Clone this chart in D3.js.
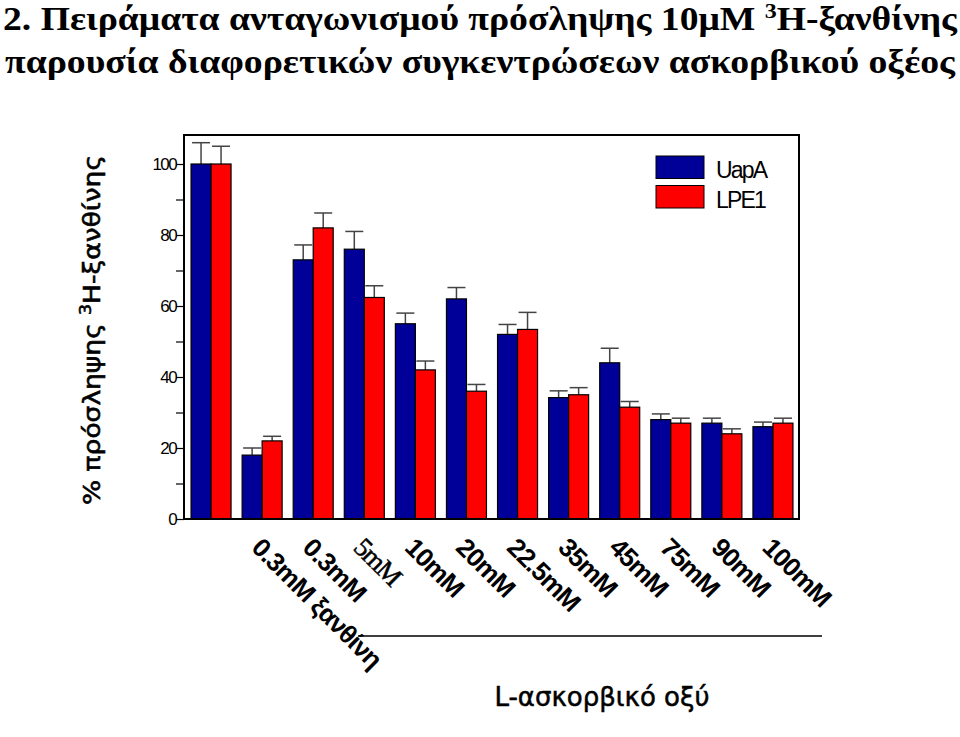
<!DOCTYPE html>
<html><head><meta charset="utf-8">
<script src="https://cdn.jsdelivr.net/npm/d3@7"></script>
<style>body{margin:0;background:#fff}svg{display:block}</style>
</head><body>
<svg id="c" width="960" height="737"></svg>
<script>
const groups = ["ctrl","0.3mM ξανθίνη","0.3mM","5mM","10mM","20mM","22.5mM","35mM","45mM","75mM","90mM","100mM"];
const xLabels = ["","0.3mM ξανθίνη","0.3mM","5mM","10mM","20mM","22.5mM","35mM","45mM","75mM","90mM","100mM"];
const seriesNames = ["UapA","LPE1"];
const uapa = [100,18,73,76,55,62,52,34.2,44,28,27,26];
const uapaErr = [6,2,4.2,5,3,3.2,2.8,1.9,4.1,1.6,1.4,1.3];
const lpe1 = [100,22,82,62.4,42,36,53.4,35,31.5,27,24,27];
const lpe1Err = [5,1.3,4.2,3.3,2.5,1.9,4.8,2,1.6,1.4,1.4,1.4];
const yTicks = [0,20,40,60,80,100];
const colors = ["#000099","#ff0000"];

const svg = d3.select("#c");
const L=184, R=799, T=135, B=519;
const x = d3.scaleBand().domain(groups).range([185.5,798.5]).paddingInner(0).paddingOuter(0);
const y = d3.scaleLinear().domain([0,100]).range([B,164]);
const bw = 20;

// Title
const title = svg.append("g").attr("font-family","'Liberation Serif','Times New Roman',serif").attr("font-weight","bold").attr("font-size",33);
const t1 = title.append("text").attr("x",3).attr("y",30).attr("textLength",954).attr("lengthAdjust","spacingAndGlyphs");
t1.append("tspan").text("2. Πειράματα ανταγωνισμού πρόσληψης 10μM ");
t1.append("tspan").attr("dy",-12).attr("font-size",21).text("3");
t1.append("tspan").attr("dy",12).text("H-ξανθίνης");
title.append("text").attr("x",5).attr("y",73).attr("textLength",950).attr("lengthAdjust","spacingAndGlyphs")
  .text("παρουσία διαφορετικών συγκεντρώσεων ασκορβικού οξέος");

// Bars
const data = groups.map((g,i)=>({g, v:[uapa[i],lpe1[i]], e:[uapaErr[i],lpe1Err[i]]}));
const gg = svg.append("g");
data.forEach(d=>{
  const cx = x(d.g)+x.bandwidth()/2;
  [0,1].forEach(s=>{
    const bx = s===0 ? cx-bw : cx;
    const top = y(d.v[s]+d.e[s]);
    gg.append("line").attr("x1",bx+bw/2).attr("x2",bx+bw/2).attr("y1",y(d.v[s])).attr("y2",top).attr("stroke","#444").attr("stroke-width",1.5);
    gg.append("line").attr("x1",bx+1).attr("x2",bx+bw-1).attr("y1",top).attr("y2",top).attr("stroke","#444").attr("stroke-width",1.5);
  });
  [0,1].forEach(s=>{
    const bx = s===0 ? cx-bw : cx;
    gg.append("rect").attr("x",bx).attr("y",y(d.v[s])).attr("width",bw).attr("height",B-y(d.v[s]))
      .attr("fill",colors[s]).attr("stroke","#000").attr("stroke-width",1.2);
  });
});

// Frame
svg.append("rect").attr("x",L).attr("y",T).attr("width",R-L).attr("height",B-T).attr("fill","none").attr("stroke","#000").attr("stroke-width",2);

// Y axis
const yAxis = d3.axisLeft(y).tickValues(d3.range(0,101,10)).tickSize(8).tickFormat(d=> yTicks.includes(d)? d : "");
const ya = svg.append("g").attr("transform",`translate(${L},0)`).call(yAxis);
ya.select(".domain").remove();
ya.selectAll("line").attr("stroke","#000").attr("stroke-width",1.2);
ya.selectAll("text").attr("font-family","'Liberation Sans',Arial,sans-serif").attr("font-size",17).attr("letter-spacing",-1.6).attr("fill","#000").attr("x",-8).attr("dy","0.34em");

// Y label
svg.append("text").attr("transform","translate(100,330) rotate(-90)").attr("text-anchor","middle")
  .attr("font-family","'DejaVu Sans',Verdana,sans-serif").attr("font-size",23)
  .attr("stroke","#000").attr("stroke-width",0.6)
  .attr("textLength",350).attr("lengthAdjust","spacingAndGlyphs")
  .call(t=>{t.append("tspan").text("% πρόσληψης ");t.append("tspan").attr("dy",-9).attr("font-size",15).text("3");t.append("tspan").attr("dy",9).text("H-ξανθίνης");});

// X labels
xLabels.forEach((lab,i)=>{
  if(!lab) return;
  const cx = x(groups[i])+x.bandwidth()/2;
  const serif = lab==="5mM";
  svg.append("text").attr("transform",`translate(${cx-12},549) rotate(45)`)
    .attr("font-family", serif? "'Liberation Serif','Times New Roman',serif" : "'Liberation Sans',Arial,sans-serif")
    .attr("font-weight", serif? "normal":"bold").attr("font-size", serif?27:26)
    .attr("letter-spacing", serif?-1.5:-0.8)
    .attr("stroke", serif? "#000":"none").attr("stroke-width", serif?0.5:0)
    .text(lab);
});

// Bracket line + x title
svg.append("line").attr("x1",358).attr("x2",822).attr("y1",636).attr("y2",636).attr("stroke","#000").attr("stroke-width",1.5);
svg.append("text").attr("x",602).attr("y",706).attr("text-anchor","middle")
  .attr("font-family","'DejaVu Sans',Verdana,sans-serif").attr("font-size",26).attr("fill","#000")
  .attr("stroke","#000").attr("stroke-width",0.5)
  .text("L-ασκορβικό οξύ");

// Legend
const leg = svg.append("g");
seriesNames.forEach((n,i)=>{
  leg.append("rect").attr("x",656).attr("y",156+i*29.5).attr("width",48).attr("height",22.5)
    .attr("fill",colors[i]).attr("stroke","#000").attr("stroke-width",1);
  leg.append("text").attr("x",716).attr("y",178+i*29.5).attr("font-family","'Liberation Sans',Arial,sans-serif")
    .attr("font-size",23).attr("letter-spacing",-1.8).text(n);
});
</script>
</body></html>
